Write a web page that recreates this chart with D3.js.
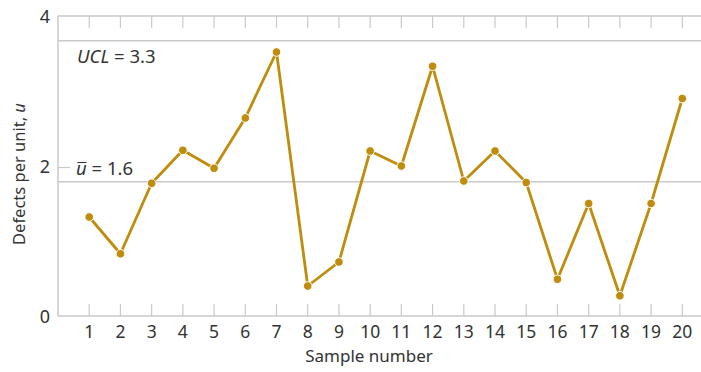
<!DOCTYPE html>
<html>
<head>
<meta charset="utf-8">
<script src="https://cdn.jsdelivr.net/npm/d3@7"></script>
<style>
  body { margin: 0; background: #fff; }
  text { font-family: "Noto Sans", "Open Sans", sans-serif; fill: #333; }
</style>
</head>
<body>
<div id="chart"></div>
<script>
const samples = d3.range(1, 21);
const defects = [1.32, 0.83, 1.77, 2.21, 1.97, 2.64, 3.52, 0.40, 0.72, 2.20,
                 2.00, 3.33, 1.80, 2.20, 1.78, 0.49, 1.50, 0.27, 1.50, 2.90];
const yTicks = [0, 2, 4];
// control lines as drawn in the figure (labels show 3.3 and 1.6)
const ucl = { label: '3.3', drawnAt: 3.67 };
const center = { label: '1.6', drawnAt: 1.79 };

const width = 701, height = 372;
const plotLeft = 58, plotTop = 16, plotBottom = 316;
const lineColor = '#c9c9c9';
const markColor = '#bf8c0c';

const svg = d3.select('#chart').append('svg')
  .attr('width', width)
  .attr('height', height);

const x = d3.scaleLinear().domain([0, 20]).range([plotLeft, 682.3]);
const y = d3.scaleLinear().domain([0, 4]).range([plotBottom, plotTop]);

// frame: top, left, bottom
svg.append('line').attr('x1', plotLeft).attr('x2', width).attr('y1', y(4)).attr('y2', y(4))
  .attr('stroke', lineColor).attr('stroke-width', 1.5);
svg.append('line').attr('x1', plotLeft).attr('x2', width).attr('y1', y(0)).attr('y2', y(0))
  .attr('stroke', lineColor).attr('stroke-width', 1.5);
svg.append('line').attr('x1', plotLeft).attr('x2', plotLeft).attr('y1', y(4)).attr('y2', y(0))
  .attr('stroke', lineColor).attr('stroke-width', 1.5);

// tick marks top and bottom
svg.append('g').selectAll('line').data(samples).join('line')
  .attr('x1', d => x(d)).attr('x2', d => x(d))
  .attr('y1', y(4)).attr('y2', y(4) + 12)
  .attr('stroke', lineColor).attr('stroke-width', 1.2);
svg.append('g').selectAll('line').data(samples).join('line')
  .attr('x1', d => x(d)).attr('x2', d => x(d))
  .attr('y1', y(0)).attr('y2', y(0) - 12)
  .attr('stroke', lineColor).attr('stroke-width', 1.2);

// y tick at 2
svg.append('line').attr('x1', plotLeft).attr('x2', plotLeft + 12).attr('y1', y(2) + 1.5).attr('y2', y(2) + 1.5)
  .attr('stroke', lineColor).attr('stroke-width', 1.2);

// control lines
[ucl, center].forEach(c => {
  svg.append('line').attr('x1', plotLeft).attr('x2', width)
    .attr('y1', y(c.drawnAt)).attr('y2', y(c.drawnAt))
    .attr('stroke', lineColor).attr('stroke-width', 1.5);
});

// y tick labels
svg.append('g').selectAll('text').data(yTicks).join('text')
  .attr('x', 50).attr('y', d => y(d) + 7)
  .attr('text-anchor', 'end')
  .style('font-size', '18px')
  .text(d => d);

// x tick labels
svg.append('g').selectAll('text').data(samples).join('text')
  .attr('x', d => x(d)).attr('y', 338)
  .attr('text-anchor', 'middle')
  .style('font-size', '17.5px')
  .text(d => d);

// axis titles
svg.append('text')
  .attr('x', 369).attr('y', 362)
  .attr('text-anchor', 'middle')
  .style('font-size', '17px')
  .text('Sample number');

const yl = svg.append('text')
  .attr('transform', 'translate(25,174) rotate(-90)')
  .attr('text-anchor', 'middle')
  .style('font-size', '16.5px');
yl.append('tspan').text('Defects per unit, ');
yl.append('tspan').style('font-style', 'italic').text('u');

// control line labels
const uclText = svg.append('text').attr('x', 77).attr('y', 63).style('font-size', '18.5px');
uclText.append('tspan').style('font-style', 'italic').text('UCL');
uclText.append('tspan').text(' = ' + ucl.label);

const cText = svg.append('text').attr('x', 76).attr('y', 175).style('font-size', '18.5px');
const uSpan = cText.append('tspan').style('font-style', 'italic').text('u');
cText.append('tspan').text(' = ' + center.label);
const ub = uSpan.node().getBBox();
svg.append('line')
  .attr('x1', ub.x + 1.5).attr('x2', ub.x + ub.width - 0.5)
  .attr('y1', 162.5).attr('y2', 162.5)
  .attr('stroke', '#333').attr('stroke-width', 1.1);

// data line
const line = d3.line().x((d, i) => x(samples[i])).y(d => y(d));
svg.append('path')
  .datum(defects)
  .attr('d', line)
  .attr('fill', 'none')
  .attr('stroke', markColor)
  .attr('stroke-width', 2.8)
  .attr('stroke-linejoin', 'round');

svg.append('g').selectAll('circle').data(defects).join('circle')
  .attr('cx', (d, i) => x(samples[i]))
  .attr('cy', d => y(d))
  .attr('r', 4.3)
  .attr('fill', markColor)
  .attr('stroke', '#fff')
  .attr('stroke-width', 1);
</script>
</body>
</html>
